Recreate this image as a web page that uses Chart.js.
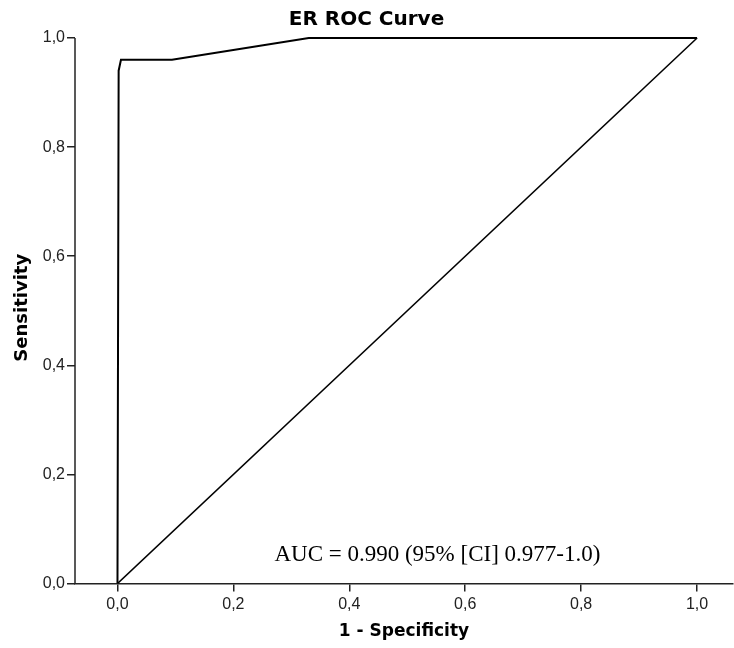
<!DOCTYPE html>
<html>
<head>
<meta charset="utf-8">
<script src="https://cdn.jsdelivr.net/npm/chart.js@4"></script>
<style>
  html, body { margin: 0; padding: 0; background: #fff; }
  #wrap { width: 734px; height: 648px; }
</style>
</head>
<body>
<div id="wrap"><canvas id="roc"></canvas></div>
<script>
// ROC curve points
var rocFpr = [0, 0.002, 0.006, 0.094, 0.33, 1];
var rocTpr = [0, 0.94, 0.96, 0.96, 1, 1];
// reference diagonal
var diagFpr = [0, 1];
var diagTpr = [0, 1];
var tickValues = [0, 0.2, 0.4, 0.6, 0.8, 1];
var aucText = 'AUC = 0.990 (95% [CI] 0.977-1.0)';

function toPoints(xs, ys) {
  return xs.map(function(x, i) { return { x: x, y: ys[i] }; });
}
function fmt(v) { return v.toFixed(1).replace('.', ','); }

// y axis line only runs from 0 to 1, plus the AUC note
var extras = {
  id: 'extras',
  afterDraw: function(chart) {
    var ctx = chart.ctx, xs = chart.scales.x, ys = chart.scales.y;
    ctx.save();
    ctx.strokeStyle = '#222';
    ctx.lineWidth = 1.5;
    ctx.beginPath();
    ctx.moveTo(chart.chartArea.left, ys.getPixelForValue(0));
    ctx.lineTo(chart.chartArea.left, ys.getPixelForValue(1));
    ctx.stroke();
    ctx.fillStyle = '#000';
    ctx.font = '23px "Liberation Serif", "Times New Roman", serif';
    ctx.textAlign = 'center';
    ctx.textBaseline = 'alphabetic';
    ctx.fillText(aucText, xs.getPixelForValue(0.552), ys.getPixelForValue(0.041));
    ctx.restore();
  }
};

new Chart(document.getElementById('roc'), {
  type: 'scatter',
  data: {
    datasets: [
      { data: toPoints(rocFpr, rocTpr), showLine: true, borderColor: '#000', borderWidth: 2, pointRadius: 0, tension: 0, fill: false },
      { data: toPoints(diagFpr, diagTpr), showLine: true, borderColor: '#000', borderWidth: 1.6, pointRadius: 0, fill: false }
    ]
  },
  options: {
    responsive: true,
    maintainAspectRatio: false,
    animation: false,
    layout: { padding: { right: 1 } },
    plugins: {
      legend: { display: false },
      tooltip: { enabled: false },
      title: {
        display: true,
        text: 'ER ROC Curve',
        color: '#000',
        font: { family: '"DejaVu Sans", sans-serif', size: 20, weight: 'bold' },
        padding: { top: 8, bottom: 0 }
      }
    },
    scales: {
      x: {
        type: 'linear',
        min: -0.0733,
        max: 1.062,
        afterBuildTicks: function(scale) { scale.ticks = tickValues.map(function(v) { return { value: v }; }); },
        afterFit: function(scale) { scale.height = 64.5; },
        border: { display: true, color: '#222', width: 1.5 },
        grid: { drawOnChartArea: false, drawTicks: true, tickLength: 8, color: '#222', lineWidth: 1.5 },
        ticks: {
          color: '#222',
          padding: 3,
          font: { family: '"Liberation Sans", Arial, sans-serif', size: 16 },
          callback: function(v) { return fmt(v); }
        },
        title: {
          display: true,
          text: '1 - Specificity',
          color: '#000',
          font: { family: '"DejaVu Sans", sans-serif', size: 17, weight: 'bold' },
          padding: { top: 0, bottom: 6 }
        }
      },
      y: {
        type: 'linear',
        min: 0,
        max: 1.011,
        afterBuildTicks: function(scale) { scale.ticks = tickValues.map(function(v) { return { value: v }; }); },
        afterFit: function(scale) { scale.width = 75; },
        border: { display: false },
        grid: { drawOnChartArea: false, drawTicks: true, tickLength: 8, color: '#222', lineWidth: 1.5 },
        ticks: {
          color: '#222',
          padding: 2,
          font: { family: '"Liberation Sans", Arial, sans-serif', size: 16 },
          callback: function(v) { return fmt(v); }
        },
        title: {
          display: true,
          text: 'Sensitivity',
          color: '#000',
          font: { family: '"DejaVu Sans", sans-serif', size: 18, weight: 'bold' },
          padding: { top: 12, bottom: 0 }
        }
      }
    }
  },
  plugins: [extras]
});
</script>
</body>
</html>
